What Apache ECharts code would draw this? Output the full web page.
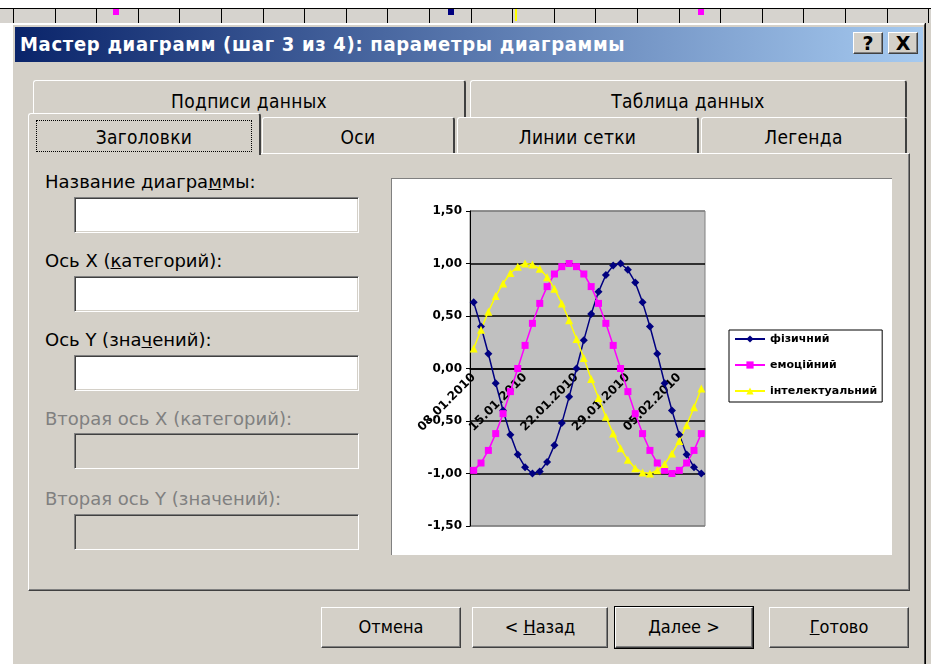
<!DOCTYPE html>
<html>
<head>
<meta charset="utf-8">
<script src="https://cdn.jsdelivr.net/npm/echarts@6/dist/echarts.min.js"></script>
<style>
html, body { margin: 0; padding: 0; width: 931px; height: 664px; overflow: hidden; background: #fff; }
body { position: relative; font-family: "DejaVu Sans Condensed", "DejaVu Sans", sans-serif; color: #000; }
.abs { position: absolute; box-sizing: border-box; }
.sheet { left: 0; top: 8px; width: 931px; height: 15px; background-color: #d6d3ce; border-top: 1px solid #000;
  background-image: repeating-linear-gradient(to right, #000 0, #000 1px, transparent 1px, transparent 41.6px);
  background-position: 13px 0; }
.dlg { left: 11px; top: 23px; width: 914px; height: 660px; background: #d4d0c8; border-left: 2px solid #fff; border-top: 2px solid #fff; border-right: 1px solid #404040; }
.title { left: 15px; top: 27px; width: 908px; height: 35px; background: linear-gradient(to right, #0a246a, #a6caf0); color: #fff;
  font-weight: bold; font-size: 20px; letter-spacing: 0.7px; line-height: 35px; padding-left: 5px; white-space: nowrap; }
.cap { width: 30px; height: 22px; top: 32px; background: #d4d0c8; border-top: 1px solid #fff; border-left: 1px solid #fff;
  border-right: 1px solid #404040; border-bottom: 1px solid #404040; box-shadow: inset -1px -1px 0 #808080;
  font: bold 19px "DejaVu Sans", sans-serif; text-align: center; line-height: 20px; }
.tab { background: #d4d0c8; border-top: 1px solid #fff; border-left: 1px solid #fff; border-right: 2px solid #404040;
  border-radius: 3px 3px 0 0; font-size: 19px; letter-spacing: 0.3px; text-align: center; white-space: nowrap; }
.panel { left: 28px; top: 153px; width: 882px; height: 438px; background: #d4d0c8; border-top: 1px solid #fff; border-left: 1px solid #fff;
  border-right: 1px solid #404040; border-bottom: 1px solid #404040; box-shadow: inset -1px -1px 0 #808080; }
.lbl { left: 45px; font-size: 18px; white-space: nowrap; line-height: 20px; font-family: "DejaVu Sans", sans-serif; }
.dis { color: #808080; }
.inp { left: 74px; width: 285px; height: 36px; background: #fff; border-top: 1px solid #808080; border-left: 1px solid #808080;
  border-right: 1px solid #fff; border-bottom: 1px solid #fff; box-shadow: inset 1px 1px 0 #404040, inset -1px -1px 0 #d4d0c8; }
.inp.off { background: #d4d0c8; }
.btn { top: 607px; height: 41px; background: #d4d0c8; border-top: 1px solid #fff; border-left: 1px solid #fff;
  border-right: 1px solid #404040; border-bottom: 1px solid #404040; box-shadow: inset -1px -1px 0 #808080;
  font-size: 18px; text-align: center; line-height: 38px; white-space: nowrap; }
.btn.def { outline: 1px solid #000; }
#chartBox { left: 391px; top: 178px; width: 501px; height: 377px; background: #fff; border-top: 1px solid #808080; border-left: 1px solid #808080; }
#chart { position: absolute; left: 0; top: 0; width: 500px; height: 376px; }
</style>
</head>
<body>
<div class="abs sheet"></div>
<div class="abs" style="left:113px;top:9px;width:6px;height:6px;background:#f0f;"></div>
<div class="abs" style="left:448px;top:9px;width:6px;height:6px;background:#000080;"></div>
<div class="abs" style="left:515px;top:9px;width:2px;height:12px;background:#ff0;"></div>
<div class="abs" style="left:698px;top:9px;width:6px;height:6px;background:#f0f;"></div>
<div class="abs" style="left:925px;top:23px;width:6px;height:641px;background:#d4d0c8;border-left:1px solid #000;"></div>

<div class="abs dlg"></div>
<div class="abs title">Мастер диаграмм (шаг 3 из 4): параметры диаграммы</div>
<div class="abs cap" style="left:853px;">?</div>
<div class="abs cap" style="left:888px;">X</div>

<div class="abs tab" style="left:33px;top:80px;width:433px;height:37px;line-height:40px;">Подписи данных</div>
<div class="abs tab" style="left:470px;top:80px;width:437px;height:37px;line-height:40px;">Таблица данных</div>
<div class="abs tab" style="left:262px;top:117px;width:193px;height:36px;line-height:38px;">Оси</div>
<div class="abs tab" style="left:457px;top:117px;width:242px;height:36px;line-height:38px;">Линии сетки</div>
<div class="abs tab" style="left:701px;top:117px;width:206px;height:36px;line-height:38px;">Легенда</div>
<div class="abs panel"></div>
<div class="abs tab" style="left:28px;top:113px;width:233px;height:42px;line-height:46px;z-index:2;">Заголовки</div>
<div class="abs" style="left:36px;top:120px;width:216px;height:32px;border:1px dotted #000;z-index:3;"></div>

<div class="abs lbl" style="top:172px;">Название диагра<u>м</u>мы:</div>
<div class="abs inp" style="top:197px;"></div>
<div class="abs lbl" style="top:251px;">Ось X (<u>к</u>атегорий):</div>
<div class="abs inp" style="top:276px;"></div>
<div class="abs lbl" style="top:330px;">Ось Y (зна<u>ч</u>ений):</div>
<div class="abs inp" style="top:355px;"></div>
<div class="abs lbl dis" style="top:409px;">Вторая ось X (категорий):</div>
<div class="abs inp off" style="top:433px;"></div>
<div class="abs lbl dis" style="top:489px;">Вторая ось Y (значений):</div>
<div class="abs inp off" style="top:514px;"></div>

<div class="abs" id="chartBox"><div id="chart"></div></div>

<div class="abs btn" style="left:321px;width:140px;">Отмена</div>
<div class="abs btn" style="left:472px;width:136px;">&lt; <u>Н</u>азад</div>
<div class="abs btn def" style="left:615px;width:138px;"><u>Д</u>алее &gt;</div>
<div class="abs btn" style="left:769px;width:140px;"><u>Г</u>отово</div>

<script>
// дати (щодня, 08.01.2010 - 08.02.2010)
const dates = ['08.01.2010','09.01.2010','10.01.2010','11.01.2010','12.01.2010','13.01.2010','14.01.2010',
  '15.01.2010','16.01.2010','17.01.2010','18.01.2010','19.01.2010','20.01.2010','21.01.2010',
  '22.01.2010','23.01.2010','24.01.2010','25.01.2010','26.01.2010','27.01.2010','28.01.2010',
  '29.01.2010','30.01.2010','31.01.2010','01.02.2010','02.02.2010','03.02.2010','04.02.2010',
  '05.02.2010','06.02.2010','07.02.2010','08.02.2010'];

const names = ['фізичний', 'емоційний', 'інтелектуальний'];

const physical = [0.63, 0.40, 0.14, -0.14, -0.40, -0.63, -0.82, -0.94, -1.00, -0.98, -0.89, -0.73, -0.52, -0.27, 0.00, 0.27,
  0.52, 0.73, 0.89, 0.98, 1.00, 0.94, 0.82, 0.63, 0.40, 0.14, -0.14, -0.40, -0.63, -0.82, -0.94, -1.00];
const emotional = [-0.97, -0.90, -0.78, -0.62, -0.43, -0.22, 0.00, 0.22, 0.43, 0.62, 0.78, 0.90, 0.97, 1.00, 0.97, 0.90,
  0.78, 0.62, 0.43, 0.22, 0.00, -0.22, -0.43, -0.62, -0.78, -0.90, -0.97, -1.00, -0.97, -0.90, -0.78, -0.62];
const intellectual = [0.19, 0.37, 0.54, 0.69, 0.81, 0.91, 0.97, 1.00, 0.99, 0.95, 0.87, 0.76, 0.62, 0.46, 0.28, 0.10,
  -0.10, -0.28, -0.46, -0.62, -0.76, -0.87, -0.95, -0.99, -1.00, -0.97, -0.91, -0.81, -0.69, -0.54, -0.37, -0.19];

var chart = echarts.init(document.getElementById('chart'));

var lblFont = { color: '#000', fontFamily: 'DejaVu Sans', fontWeight: 'bold', fontSize: 12 };
var plotH = 315;

var option = {
  animation: false,
  grid: {
    left: 78, top: 32, width: 235, height: plotH,
    show: true, backgroundColor: '#c0c0c0', borderColor: '#808080', borderWidth: 1
  },
  legend: {
    orient: 'vertical',
    left: 337, top: 151,
    padding: [2, 5, 4, 5],
    itemWidth: 30, itemHeight: 9, itemGap: 12,
    borderColor: '#000', borderWidth: 1, backgroundColor: '#fff',
    textStyle: { color: '#000', fontFamily: 'DejaVu Sans', fontWeight: 'bold', fontSize: 11, lineHeight: 14 },
    data: names
  },
  xAxis: {
    type: 'category',
    data: dates,
    boundaryGap: true,
    // вісь категорій перетинає Y на 0 (середина діапазону -1,5..1,5)
    offset: -plotH / 2,
    axisLine: { onZero: false, lineStyle: { color: '#000', width: 1.5 } },
    axisTick: { interval: 6, length: 4, lineStyle: { color: '#000' } },
    axisLabel: Object.assign({ interval: 6, rotate: 45, margin: 7 }, lblFont),
    splitLine: { show: false }
  },
  yAxis: {
    type: 'value',
    min: -1.5, max: 1.5, interval: 0.5,
    axisLine: { show: true, lineStyle: { color: '#000', width: 1 } },
    axisTick: { show: true, length: 4, lineStyle: { color: '#000' } },
    axisLabel: Object.assign({ margin: 8, formatter: function (v) { return v.toFixed(2).replace('.', ','); } }, lblFont),
    splitLine: { show: true, lineStyle: { color: ['#808080', '#000', '#000', '#000', '#000', '#000', '#808080'], width: 1.5 } }
  },
  series: [
    {
      name: names[0], type: 'line', data: physical,
      symbol: 'diamond', symbolSize: 8, showAllSymbol: true,
      lineStyle: { color: '#000080', width: 1.5 },
      itemStyle: { color: '#000080' }
    },
    {
      name: names[1], type: 'line', data: emotional,
      symbol: 'rect', symbolSize: 7, showAllSymbol: true,
      lineStyle: { color: '#ff00ff', width: 1.5 },
      itemStyle: { color: '#ff00ff' }
    },
    {
      name: names[2], type: 'line', data: intellectual,
      symbol: 'triangle', symbolSize: 8, showAllSymbol: true,
      lineStyle: { color: '#ffff00', width: 1.5 },
      itemStyle: { color: '#ffff00' }
    }
  ]
};

chart.setOption(option);
</script>
</body>
</html>
